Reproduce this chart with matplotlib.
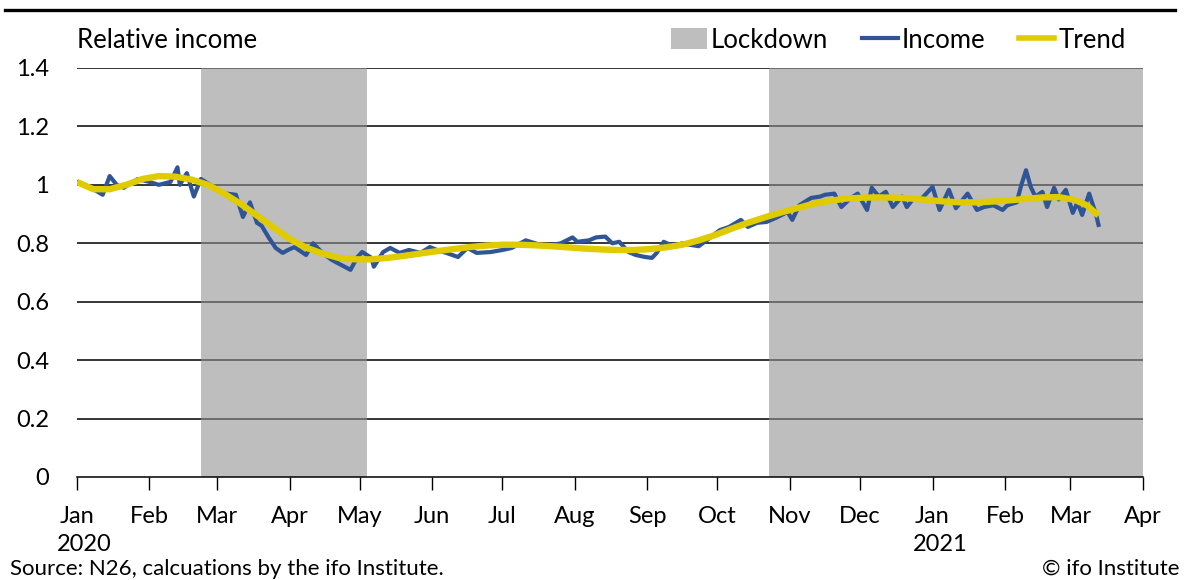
import numpy as np
import pandas as pd
import matplotlib
matplotlib.use("Agg")
import matplotlib.pyplot as plt
from matplotlib.lines import Line2D
from matplotlib.patches import Patch

plt.rcParams['font.family'] = ['Lato', 'DejaVu Sans']

# days since 2020-01-01 and the relative income
income_day = [0, 6, 11, 14, 17, 20, 26, 31, 35, 40, 43, 44, 47, 50, 53, 57, 60, 64,
              68, 71, 74, 77, 79, 82, 85, 88, 90, 93, 98, 101, 105, 109, 113, 117, 120, 122, 126,
              127, 131, 134, 138, 142, 147, 151, 154, 158, 163, 167, 171, 177, 182, 186, 192,
              196, 200, 204, 207, 212, 214, 219, 222, 226, 229, 232, 236, 239, 243, 246, 248, 251, 255, 259,
              262, 266, 271, 275, 279, 284, 287, 291, 295, 299, 304, 306, 309, 314, 318,
              320, 324, 327, 331, 334, 338, 340, 343, 346, 349, 353, 355, 358, 361, 366, 369, 373, 376, 381,
              385, 388, 392, 396, 398, 402, 404, 406, 408, 410, 413, 415, 418, 420, 423, 426, 428, 430, 433, 436, 437]
income_val = [1.01, 0.99, 0.966, 1.03, 1.0, 0.99, 1.02, 1.01, 1.0, 1.01, 1.06, 1.0, 1.04, 0.96, 1.02, 1.0, 0.98, 0.97,
              0.966, 0.89, 0.94, 0.87, 0.86, 0.82, 0.784, 0.767, 0.776, 0.787, 0.76, 0.80, 0.767, 0.743, 0.726, 0.709, 0.753, 0.77, 0.75,
              0.72, 0.77, 0.784, 0.767, 0.777, 0.767, 0.787, 0.777, 0.767, 0.753, 0.784, 0.767, 0.77, 0.777, 0.784, 0.81,
              0.80, 0.79, 0.795, 0.80, 0.82, 0.805, 0.81, 0.82, 0.823, 0.80, 0.805, 0.77, 0.76, 0.753, 0.75, 0.767, 0.805, 0.79, 0.80,
              0.795, 0.79, 0.82, 0.845, 0.856, 0.88, 0.856, 0.87, 0.873, 0.887, 0.907, 0.88, 0.93, 0.955, 0.96,
              0.966, 0.97, 0.924, 0.955, 0.97, 0.914, 0.99, 0.96, 0.976, 0.924, 0.96, 0.924, 0.955, 0.95, 0.993, 0.914, 0.983, 0.92, 0.97,
              0.914, 0.924, 0.93, 0.914, 0.93, 0.94, 1.0, 1.05, 0.993, 0.96, 0.976, 0.924, 0.99, 0.95, 0.983, 0.904, 0.94, 0.897, 0.97, 0.897, 0.863]

trend_day = [0, 7, 14, 21, 28, 35, 42, 49, 56, 63, 70, 77, 84, 91, 98, 105, 112, 119, 126, 133,
             140, 147, 154, 161, 168, 175, 182, 189, 196, 203, 210, 217, 224, 231, 238, 245, 252, 259,
             266, 273, 280, 287, 294, 301, 308, 315, 322, 329, 336, 343, 350, 357, 364, 371, 378, 385,
             392, 399, 406, 413, 420, 427, 432, 437]
trend_val = [1.01, 0.985, 0.985, 1.0, 1.02, 1.03, 1.028, 1.018, 1.0, 0.97, 0.935, 0.895, 0.855, 0.815, 0.785, 0.765, 0.75, 0.745, 0.745, 0.75,
             0.757, 0.765, 0.773, 0.78, 0.787, 0.792, 0.795, 0.795, 0.793, 0.79, 0.786, 0.782, 0.779, 0.777, 0.777, 0.78, 0.786, 0.795,
             0.81, 0.828, 0.85, 0.87, 0.888, 0.905, 0.92, 0.935, 0.945, 0.953, 0.956, 0.957, 0.956, 0.953, 0.948, 0.943, 0.94, 0.94,
             0.943, 0.947, 0.952, 0.957, 0.958, 0.948, 0.93, 0.895]

lockdowns = [("2020-02-23", "2020-05-04"), ("2020-10-23", "2021-04-01")]
years = [("2020-01-01", "2020"), ("2021-01-01", "2021")]

start = pd.Timestamp("2020-01-01")
income_dates = start + pd.to_timedelta(income_day, unit="D")
trend_dates = start + pd.to_timedelta(trend_day, unit="D")

month_ticks = pd.date_range("2020-01-01", "2021-04-01", freq="MS")
month_labels = [d.strftime("%b") for d in month_ticks]

blue = "#2F5597"
yellow = "#E0CB00"
fs = 17
fs_big = 18.5

fig = plt.figure(figsize=(11.84, 5.8), dpi=100)
ax = fig.add_axes([0.065, 0.1776, 0.9003, 0.7052])

for y in np.arange(0.2, 1.41, 0.2):
    ax.axhline(y, color="black", lw=1.1, zorder=1)

for a, b in lockdowns:
    ax.axvspan(pd.Timestamp(a), pd.Timestamp(b), color="#919191", alpha=0.584, lw=0, zorder=2)

ax.plot(income_dates, income_val, color=blue, lw=3.0, zorder=3, solid_joinstyle="round")
ax.plot(trend_dates, trend_val, color=yellow, lw=4.6, zorder=4, solid_capstyle="butt")

ax.set_xlim(pd.Timestamp("2020-01-01"), pd.Timestamp("2021-04-01"))
ax.set_ylim(0, 1.4)
ax.set_yticks([0, 0.2, 0.4, 0.6, 0.8, 1.0, 1.2, 1.4])
ax.set_yticklabels(["0", "0.2", "0.4", "0.6", "0.8", "1", "1.2", "1.4"])
ax.set_xticks(month_ticks)
ax.set_xticklabels(month_labels)

ax.tick_params(axis="y", length=0, pad=20, labelsize=fs)
ax.tick_params(axis="x", length=9, width=1, direction="out", pad=12, labelsize=fs)
for s in ["left", "right", "top"]:
    ax.spines[s].set_visible(False)
ax.spines["bottom"].set_linewidth(1.1)

for d, y in years:
    ax.annotate(y, xy=(pd.Timestamp(d), 0), xycoords=("data", "axes fraction"),
                xytext=(-20, -68), textcoords="offset pixels", ha="left", va="center",
                fontsize=fs)

handles = [Patch(facecolor="#919191", alpha=0.584, edgecolor="none"),
           Line2D([], [], color=blue, lw=3),
           Line2D([], [], color=yellow, lw=4)]
ax.legend(handles, ["Lockdown", "Income", "Trend"], loc="center right",
          bbox_to_anchor=(1136 / 1184, 1 - 40 / 580), bbox_transform=fig.transFigure,
          ncol=3, frameon=False, fontsize=fs_big,
          handlelength=1.4, handleheight=0.9, handletextpad=0.15, columnspacing=1.3, borderaxespad=0.0)

fig.text(77 / 1184, 1 - 40 / 580, "Relative income", fontsize=fs_big, va="center", ha="left")
fig.add_artist(Line2D([5 / 1184, 1175 / 1184], [1 - 10 / 580, 1 - 10 / 580], color="black", lw=2.4))
fig.text(10 / 1184, 1 - 569 / 580, "Source: N26, calcuations by the ifo Institute.", fontsize=16, va="center", ha="left")
fig.text(1180 / 1184, 1 - 569 / 580, "\u00a9 ifo Institute", fontsize=16, va="center", ha="right")

fig.savefig("out.png", dpi=100)
